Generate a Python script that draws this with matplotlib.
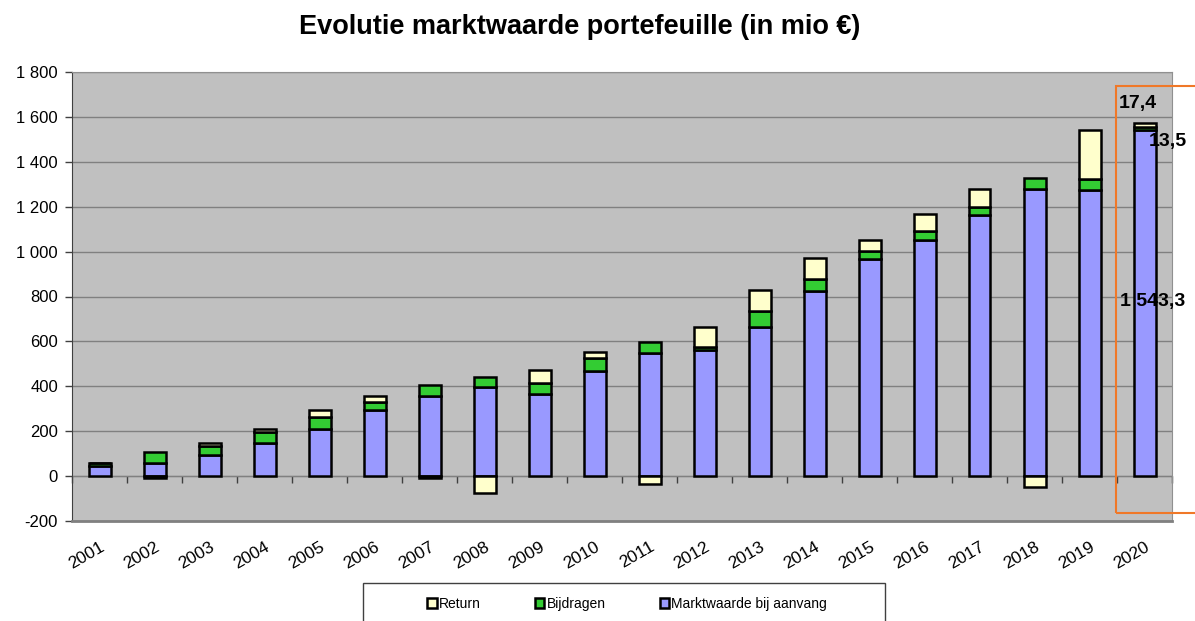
import numpy as np
import matplotlib
matplotlib.use("Agg")
import matplotlib.pyplot as plt
from matplotlib.patches import Rectangle

plt.rcParams['font.family'] = ['Liberation Sans', 'DejaVu Sans']

years = [str(y) for y in range(2001, 2021)]
start_value = [46, 59, 94, 146, 209, 293, 358, 398, 365, 469, 549, 561, 664, 826, 968, 1050, 1165, 1277, 1276, 1543.3]
contributions = [13, 47, 41, 49, 54, 35, 47, 44, 51, 55, 49, 12, 73, 51, 35, 43, 33, 49, 47, 13.5]
returns = [1, -10, 12, 16, 32, 30, -10, -74, 56, 28, -37, 92, 92, 93, 48, 73, 80, -50, 220, 17.4]

ytick_vals = list(range(-200, 1801, 200))
ytick_labels = [f"{v:,}".replace(",", " ") for v in ytick_vals]

blue = '#9999FF'
green = '#33CC33'
cream = '#FFFFCC'

fig = plt.figure(figsize=(11.95, 6.21), dpi=100)
ax = fig.add_axes([72 / 1195, 1 - 521 / 621, 1100 / 1195, 449 / 621])
ax.set_facecolor('#C0C0C0')

x = np.arange(len(years))
start_value = np.array(start_value)
contributions = np.array(contributions)
returns = np.array(returns)
w = 0.4
lw = 1.8

ax.bar(x, start_value, w, color=blue, edgecolor='black', linewidth=lw,
       label='Marktwaarde bij aanvang', zorder=3)
ax.bar(x, contributions, w, bottom=start_value, color=green, edgecolor='black',
       linewidth=lw, label='Bijdragen', zorder=3)
ret_bottom = np.where(returns >= 0, start_value + contributions, 0)
ax.bar(x, returns, w, bottom=ret_bottom, color=cream, edgecolor='black',
       linewidth=lw, label='Return', zorder=3)

ymin, ymax = -200, 1800
ax.set_ylim(ymin, ymax)
ax.set_xlim(-0.5, len(years) - 0.5)
ax.set_yticks(ytick_vals)
ax.set_yticklabels(ytick_labels, fontsize=12)
ax.yaxis.grid(True, color='#808080', linewidth=1, zorder=1)
ax.tick_params(axis='y', direction='out', length=5, width=1, color='#404040', pad=5)

ax.set_xticks(x)
ax.set_xticklabels(years, rotation=30, ha='right', rotation_mode='anchor', fontsize=12.5)
ax.tick_params(axis='x', length=0, pad=13)

for side in ['top', 'right']:
    ax.spines[side].set_color('#909090')
ax.spines['bottom'].set_color('#808080')
ax.spines['bottom'].set_linewidth(2)
ax.spines['left'].set_color('#404040')

# category axis drawn at zero
sec = ax.secondary_xaxis(-ymin / (ymax - ymin))
sec.set_xticks(np.arange(len(years) + 1) - 0.5)
sec.set_xticklabels([])
sec.tick_params(direction='out', length=5, width=1, color='#404040')
sec.spines['bottom'].set_color('#404040')

# data labels on the last bar
i = len(years) - 1
ax.annotate('17,4', (x[i], start_value[i] + contributions[i] + returns[i]),
            xytext=(-5, 14), textcoords='offset points', ha='center', va='center',
            fontsize=14, fontweight='bold')
ax.annotate('13,5', (x[i], start_value[i] + contributions[i] / 2),
            xytext=(17, -9.5), textcoords='offset points', ha='center', va='center',
            fontsize=14, fontweight='bold')
ax.annotate('1 543,3', (x[i], start_value[i] / 2),
            xytext=(6, 1), textcoords='offset points', ha='center', va='center',
            fontsize=14, fontweight='bold')

fig.text(580 / 1195, 1 - 27 / 621, 'Evolutie marktwaarde portefeuille (in mio €)',
         ha='center', va='center', fontsize=19.5, fontweight='bold')

# orange selection box
fig.patches.append(Rectangle((1116 / 1195, 1 - 513 / 621), 0.2, 427 / 621,
                             transform=fig.transFigure, fill=False,
                             edgecolor='#F07828', linewidth=1.5))

# legend
fig.patches.append(Rectangle((363 / 1195, -0.05), 522 / 1195, 0.05 + 1 - 583 / 621,
                             transform=fig.transFigure, fill=False,
                             edgecolor='#404040', linewidth=1))
handles, labels = ax.get_legend_handles_labels()
order = [2, 1, 0]
leg = fig.legend([handles[k] for k in order], [labels[k] for k in order],
                 loc='center', bbox_to_anchor=(627 / 1195, 1 - 604 / 621), ncol=3,
                 frameon=False, fontsize=10, handlelength=0.7, handleheight=0.7,
                 handletextpad=0.15, columnspacing=3.9)

fig.savefig('out.png', dpi=100)
